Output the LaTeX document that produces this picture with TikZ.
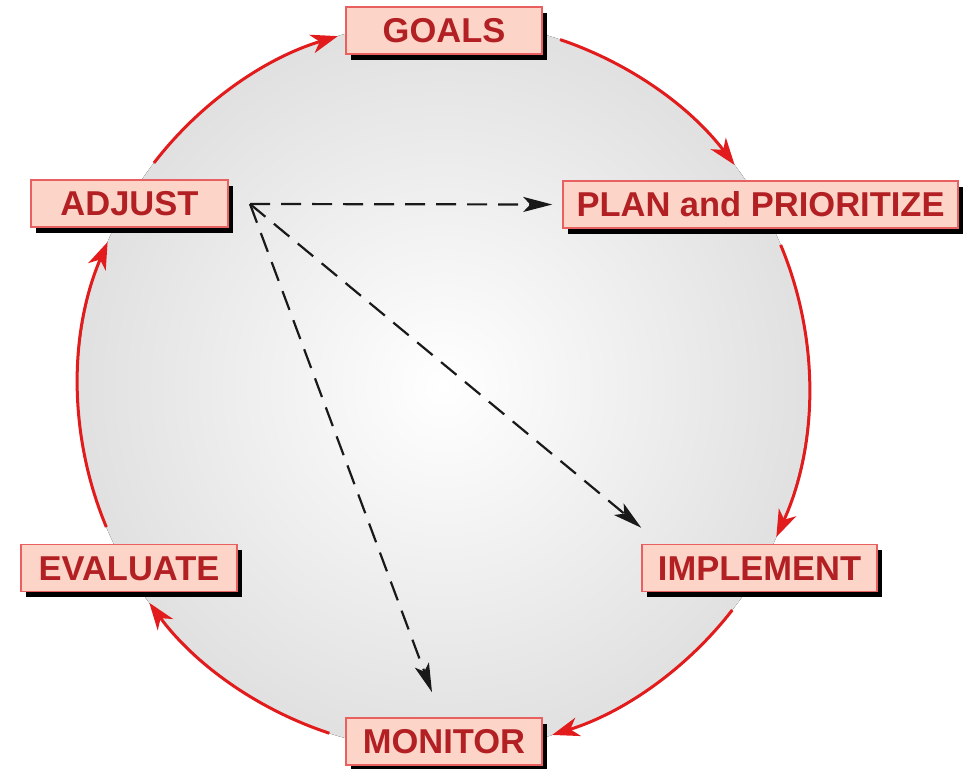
\documentclass[tikz,border=0pt]{standalone}
\usepackage{fontspec}
\setmainfont{Liberation Sans}
\usetikzlibrary{arrows.meta,shadows}
\definecolor{boxfill}{RGB}{253,212,200}
\definecolor{boxline}{RGB}{232,96,96}
\definecolor{labelred}{RGB}{178,32,36}
\definecolor{cyclered}{RGB}{226,28,28}
% light centre fading to grey at the rim of the disc
\pgfdeclareradialshading{discshade}{\pgfpointorigin}{color(0bp)=(white); color(50bp)=(black!24); color(72bp)=(black!24)}
\begin{document}
\begin{tikzpicture}[x=1pt,y=1pt,
  stage/.style={draw=boxline, line width=1.5pt, fill=boxfill, text=labelred,
    font=\fontsize{34.5}{40}\selectfont\bfseries, inner sep=0pt,
    minimum height=47pt, text height=24.7pt, text depth=0pt,
    drop shadow={shadow xshift=5pt, shadow yshift=-6pt, fill=black, opacity=1}},
  loopedge/.style={draw=cyclered, line width=3pt,
    -{Stealth[length=27pt,width=19pt,inset=8pt]}},
  shortcut/.style={draw=black!90, line width=2.2pt, dash pattern=on 20pt off 11pt,
    -{Stealth[length=29pt,width=15pt,inset=7pt]}}]

\useasboundingbox (0,0) rectangle (966,768);
\coordinate (c) at (443.5,382);
\def\R{365.5}

% shaded disc
\fill[shading=discshade] (c) circle[radius=\R];

% clockwise cycle along the rim
\draw[loopedge] ([shift={(71.4:\R)}]c) arc[start angle=71.4, end angle=37.2, radius=\R];
\draw[loopedge] ([shift={(22.7:\R)}]c) arc[start angle=22.7, end angle=-24.4, radius=\R];
\draw[loopedge] ([shift={(-37.8:\R)}]c) arc[start angle=-37.8, end angle=-72.7, radius=\R];
\draw[loopedge] ([shift={(-108.2:\R)}]c) arc[start angle=-108.2, end angle=-143.6, radius=\R];
\draw[loopedge] ([shift={(-157.3:\R)}]c) arc[start angle=-157.3, end angle=-203.2, radius=\R];
\draw[loopedge] ([shift={(142.4:\R)}]c) arc[start angle=142.4, end angle=106.8, radius=\R];

% stages
\node[stage, minimum width=196pt] (goals) at (444,737.5) {GOALS};
\node[stage, minimum width=395pt] (plan)  at (760.5,563.5) {PLAN and PRIORITIZE};
\node[stage, minimum width=235pt] (impl)  at (759.5,200) {IMPLEMENT};
\node[stage, minimum width=196pt] (mon)   at (444,26.5) {MONITOR};
\node[stage, minimum width=216pt] (eval)  at (129,200) {EVALUATE};
\node[stage, minimum width=197pt] (adj)   at (129.5,564.5) {ADJUST};

% shortcuts out of ADJUST
\coordinate (src) at (250,564);
\draw[shortcut] (src) -- ([xshift=-10pt]plan.west);
\draw[shortcut] (src) -- ([yshift=16pt]impl.north west);
\draw[shortcut] (src) -- ([xshift=-12pt,yshift=25pt]mon.north);
\end{tikzpicture}
\end{document}
